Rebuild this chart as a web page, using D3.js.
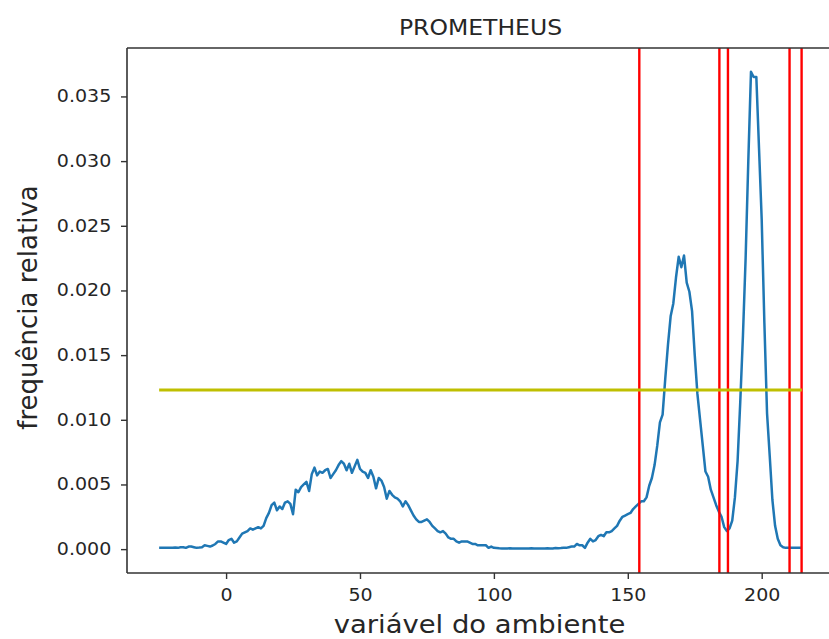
<!DOCTYPE html>
<html>
<head>
<meta charset="utf-8">
<script src="https://cdn.jsdelivr.net/npm/d3@7"></script>
<style>
  html, body { margin: 0; padding: 0; background: #fff; overflow: hidden; }
  svg { display: block; }
  text { font-family: "DejaVu Sans", sans-serif; fill: #262626; }
</style>
</head>
<body>
<svg id="chart" width="829" height="639"></svg>
<script>
// ---- data ----
const title = "PROMETHEUS";
const xLabel = "variável do ambiente";
const yLabel = "frequência relativa";
const xStart = -25; // first x value of the series (step 1)
const freq = [
  // -25 .. -1
  0.0001, 0.0001, 0.0001, 0.0001, 0.0001, 0.0001, 0.00012, 0.0001, 0.00015, 0.00015,
  0.0001, 0.0002, 0.0002, 0.00015, 0.0001, 0.00012, 0.00015, 0.0003, 0.00025, 0.0002,
  0.00028, 0.0004, 0.0006, 0.0006, 0.0005,
  // 0 .. 24
  0.0004, 0.0007, 0.0008, 0.0005, 0.0006, 0.0009, 0.0012, 0.0013, 0.0014, 0.0016,
  0.0015, 0.0016, 0.0017, 0.0016, 0.0018, 0.0024, 0.0028, 0.0034, 0.0036, 0.0030,
  0.0033, 0.0031, 0.0036, 0.0037, 0.0035,
  // 25 .. 49
  0.0027, 0.0046, 0.0044, 0.0048, 0.0050, 0.0052, 0.0045, 0.0058, 0.0063, 0.0057,
  0.0060, 0.0059, 0.0061, 0.0062, 0.0055, 0.0058, 0.0061, 0.0065, 0.0068, 0.0066,
  0.0061, 0.0066, 0.0059, 0.0064, 0.0069,
  // 50 .. 74
  0.0062, 0.0060, 0.0059, 0.0055, 0.0061, 0.0056, 0.0047, 0.0055, 0.0053, 0.0048,
  0.0039, 0.0045, 0.0042, 0.0040, 0.0039, 0.0037, 0.0033, 0.0037, 0.0034, 0.0030,
  0.0026, 0.0023, 0.0021, 0.0021, 0.0022,
  // 75 .. 99
  0.0023, 0.0021, 0.0018, 0.0016, 0.0014, 0.0013, 0.0014, 0.0012, 0.0009, 0.0008,
  0.0008, 0.0006, 0.0005, 0.0006, 0.0006, 0.0006, 0.0005, 0.0004, 0.0004, 0.0003,
  0.0003, 0.0003, 0.0003, 0.0001, 0.0002,
  // 100 .. 124
  0.0001, 0.00008, 0.00006, 0.00005, 0.00005, 0.00005, 0.00006, 0.00005, 0.00005, 0.00005,
  0.00005, 0.00005, 0.00005, 0.00005, 0.00006, 0.00005, 0.00005, 0.00005, 0.00005, 0.00005,
  0.00006, 0.00005, 0.00005, 0.00008, 0.00007,
  // 125 .. 149
  0.00008, 0.0001, 0.0001, 0.00015, 0.0002, 0.0002, 0.0004, 0.0003, 0.0003, 0.0001,
  0.0005, 0.0008, 0.0006, 0.0007, 0.0010, 0.0011, 0.0010, 0.0013, 0.0013, 0.0014,
  0.0016, 0.0018, 0.0022, 0.0025, 0.0026,
  // 150 .. 174
  0.0027, 0.0028, 0.0031, 0.0033, 0.0035, 0.0037, 0.0037, 0.0040, 0.0049, 0.0055,
  0.0065, 0.0080, 0.0098, 0.0104, 0.0132, 0.0158, 0.0180, 0.0190, 0.0210, 0.0226,
  0.0218, 0.0227, 0.0206, 0.0199, 0.0184,
  // 175 .. 199
  0.0150, 0.0120, 0.0100, 0.0080, 0.0060, 0.0056, 0.0046, 0.0040, 0.0034, 0.0029,
  0.0025, 0.0017, 0.0014, 0.0016, 0.0022, 0.0040, 0.0068, 0.0114, 0.0165, 0.0225,
  0.0300, 0.0369, 0.0365, 0.0365, 0.0310,
  // 200 .. 215
  0.0255, 0.0175, 0.0105, 0.0072, 0.0038, 0.0018, 0.0008, 0.0003, 0.00015, 0.0001,
  0.0001, 0.0001, 0.0001, 0.0001, 0.0001, 0.0001
];
const thresholdY = 0.0123;            // horizontal yellow line
const thresholdX = [-25, 215];        // its extent
const cuts = [154.3, 184.2, 187.4, 210.4, 214.9]; // red vertical lines
const xTicks = [0, 50, 100, 150, 200];
const yTicks = [0.000, 0.005, 0.010, 0.015, 0.020, 0.025, 0.030, 0.035];

// ---- layout ----
const svg = d3.select("#chart");
const L = 127, R = 834, T = 48, B = 573;
const SX = 1.12; // horizontal text stretch of the reference

const xs = freq.map((_, i) => xStart + i);
const xMin = d3.min(xs), xMax = d3.max(xs);
const xPad = (xMax - xMin) * 0.05;
const yMax = d3.max(freq), yMin = 0;
const yPad = (yMax - yMin) * 0.05;

const x = d3.scaleLinear().domain([xMin - xPad, xMax + xPad]).range([L, R]);
const y = d3.scaleLinear().domain([yMin - yPad, yMax + yPad]).range([B, T]);

const plot = svg.append("g");
plot.append("defs").append("clipPath").attr("id", "clip")
  .append("rect").attr("x", L).attr("y", T).attr("width", R - L).attr("height", B - T);

const inner = plot.append("g").attr("clip-path", "url(#clip)");

// blue series
inner.append("path")
  .datum(freq.map((v, i) => [xs[i], v]))
  .attr("fill", "none")
  .attr("stroke", "#1f77b4")
  .attr("stroke-width", 2.5)
  .attr("stroke-linejoin", "round")
  .attr("d", d3.line().x(d => x(d[0])).y(d => y(d[1])));

// red vertical lines
inner.selectAll("line.cut").data(cuts).join("line")
  .attr("class", "cut")
  .attr("x1", d => x(d)).attr("x2", d => x(d))
  .attr("y1", T).attr("y2", B)
  .attr("stroke", "#ff0000").attr("stroke-width", 2.4);

// yellow horizontal line
inner.append("line")
  .attr("x1", x(thresholdX[0])).attr("x2", x(thresholdX[1]))
  .attr("y1", y(thresholdY)).attr("y2", y(thresholdY))
  .attr("stroke", "#bfbf00").attr("stroke-width", 3);

// axes
const xAxis = d3.axisBottom(x).tickValues(xTicks).tickSize(6).tickPadding(10)
  .tickFormat(d3.format("d"));
const yAxis = d3.axisLeft(y).tickValues(yTicks).tickSize(6).tickPadding(8)
  .tickFormat(d3.format(".3f"));

const gx = svg.append("g").attr("transform", `translate(0,${B})`).call(xAxis);
const gy = svg.append("g").attr("transform", `translate(${L},0)`).call(yAxis);
[gx, gy].forEach(g => {
  g.select(".domain").remove();
  g.selectAll(".tick line").attr("stroke", "#333").attr("stroke-width", 1.4);
  g.selectAll(".tick text").attr("fill", "#262626")
    .attr("transform", `scale(${SX},1)`)
    .style("font-family", "'DejaVu Sans', sans-serif").style("font-size", "17px");
});

// spines (right spine falls outside the picture)
const sp = svg.append("g").attr("stroke", "#333").attr("stroke-width", 1.6);
sp.append("line").attr("x1", L).attr("x2", L).attr("y1", T).attr("y2", B);
sp.append("line").attr("x1", L).attr("x2", R).attr("y1", T).attr("y2", T);
sp.append("line").attr("x1", L).attr("x2", R).attr("y1", B).attr("y2", B);

// title & labels
svg.append("text").attr("transform", `translate(${(L + R) / 2},35) scale(${SX},1)`)
  .attr("text-anchor", "middle")
  .style("font-size", "21px").text(title);
svg.append("text").attr("transform", `translate(${(L + R) / 2 - 1},633) scale(${SX},1)`)
  .attr("text-anchor", "middle")
  .style("font-size", "24.5px").text(xLabel);
svg.append("text")
  .attr("transform", `translate(37,${(T + B) / 2 - 3}) rotate(-90)`)
  .attr("text-anchor", "middle")
  .style("font-size", "26px").text(yLabel);
</script>
</body>
</html>
